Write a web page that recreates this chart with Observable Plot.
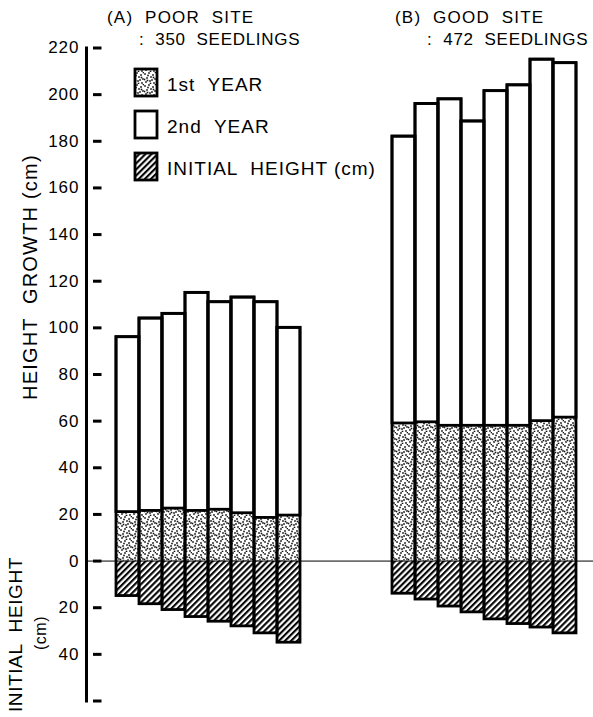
<!DOCTYPE html>
<html>
<head>
<meta charset="utf-8">
<script src="https://cdn.jsdelivr.net/npm/d3@7"></script>
<script src="https://cdn.jsdelivr.net/npm/@observablehq/plot@0.6"></script>
<style>
  html, body { margin: 0; padding: 0; background: #fff; }
  #chart { position: relative; width: 593px; height: 717px; }
  svg text { font-family: "Liberation Sans", Arial, Helvetica, sans-serif; }
</style>
</head>
<body>
<div id="chart"></div>
<script>
// ---- data ----
const classes = [1, 2, 3, 4, 5, 6, 7, 8];
const siteATotal   = [96, 104, 106, 115, 111, 113, 111, 100];
const siteAYear1   = [21, 21.5, 22.5, 21.5, 22, 20.5, 18.5, 19.5];
const siteAInitial = [15, 18.5, 21, 24, 26, 28, 31, 35];
const siteBTotal   = [182, 196, 198, 188.5, 201.5, 204, 215, 213.5];
const siteBYear1   = [59, 59.5, 58, 58, 58, 58, 60, 61.5];
const siteBInitial = [14, 16.5, 19.5, 22, 25, 27, 28.5, 31];
const yTicks = [-60, -40, -20, 0, 20, 40, 60, 80, 100, 120, 140, 160, 180, 200, 220];
const siteLabels = [["(A)  POOR  SITE", ":  350  SEEDLINGS"], ["(B)  GOOD  SITE", ":  472  SEEDLINGS"]];
const legendLabels = ["1st  YEAR", "2nd  YEAR", "INITIAL  HEIGHT (cm)"];

// ---- table ----
const rows = [];
classes.forEach((c, i) => rows.push({key: "A" + c, total: siteATotal[i], y1: siteAYear1[i], init: -siteAInitial[i]}));
classes.forEach((c, i) => rows.push({key: "B" + c, total: siteBTotal[i], y1: siteBYear1[i], init: -siteBInitial[i]}));
const xDomain = ["pad", ...classes.map(c => "A" + c), "g1", "g2", "g3", "g4", ...classes.map(c => "B" + c)];

// ---- patterns ----
const defsSvg = d3.select("body").append("svg")
  .attr("width", 0).attr("height", 0).style("position", "absolute");
const defs = defsSvg.append("defs");
const dots = [[1,2],[5,1],[9,3],[3,6],[7,5],[11,7],[2,10],[6,9],[10,11],[4,3.5],[8,8],[0.5,7.5],[11.5,0.5],[6.5,11.5],[9.5,5.5],[3.5,8.5]];
const stip = defs.append("pattern").attr("id", "stipple").attr("patternUnits", "userSpaceOnUse")
  .attr("width", 12).attr("height", 12);
stip.append("rect").attr("width", 12).attr("height", 12).attr("fill", "#fff");
dots.forEach(([x, y]) => stip.append("rect").attr("x", x - 0.8).attr("y", y - 0.8)
  .attr("width", 1.6).attr("height", 1.6).attr("fill", "#111"));
const hatch = defs.append("pattern").attr("id", "hatch").attr("patternUnits", "userSpaceOnUse")
  .attr("width", 4.3).attr("height", 4.3).attr("patternTransform", "rotate(45)");
hatch.append("rect").attr("width", 4.3).attr("height", 4.3).attr("fill", "#fff");
hatch.append("line").attr("x1", 1.1).attr("y1", 0).attr("x2", 1.1).attr("y2", 4.3)
  .attr("stroke", "#000").attr("stroke-width", 2.1);

// ---- plot ----
const plot = Plot.plot({
  width: 593,
  height: 717,
  marginLeft: 86,
  marginRight: 9.4,
  marginTop: 47.5,
  marginBottom: 16.5,
  x: {type: "band", domain: xDomain, padding: 0, axis: null},
  y: {domain: [-60, 220]},
  style: {fontFamily: "'Liberation Sans', Arial, sans-serif", background: "#fff"},
  marks: [
    Plot.barY(rows, {x: "key", y1: "init", y2: 0, fill: "url(#hatch)"}),
    Plot.barY(rows, {x: "key", y1: 0, y2: "y1", fill: "url(#stipple)"}),
    Plot.barY(rows, {x: "key", y1: "y1", y2: "total", fill: "#fff", stroke: "#000", strokeWidth: 2.8}),
    Plot.barY(rows, {x: "key", y1: "init", y2: "total", fill: "none", stroke: "#000", strokeWidth: 2.8}),
    Plot.ruleY([0], {stroke: "#000", strokeWidth: 1, insetRight: -10}),
    Plot.frame({anchor: "left", stroke: "#000", strokeWidth: 3}),
    Plot.tickY(yTicks, {x: () => "pad", y: d => d, stroke: "#000", strokeWidth: 3, insetRight: 14.5}),
    Plot.axisY({
      ticks: yTicks,
      tickFormat: d => d === -60 ? "" : String(Math.abs(d)),
      tickSize: 0,
      tickPadding: 7,
      fontSize: 17,
      label: null
    })
  ]
});
document.getElementById("chart").appendChild(plot);

// ---- annotations ----
const svg = d3.select(plot);
svg.selectAll("g[aria-label='y-axis tick label'] text").style("letter-spacing", "1px");
const txt = (x, y, s, size, opts = {}) => {
  const t = svg.append("text").attr("x", x).attr("y", y).text(s)
    .attr("font-size", size).attr("fill", "#000")
    .attr("text-anchor", opts.anchor || "start")
    .style("letter-spacing", opts.ls || "1.2px").style("white-space", "pre");
  if (opts.rotate) t.attr("transform", `rotate(-90 ${x} ${y})`);
  return t;
};
txt(107, 23, siteLabels[0][0], 17);
txt(139, 45, siteLabels[0][1], 17, {ls: "0.7px"});
txt(395, 23, siteLabels[1][0], 17);
txt(427, 45, siteLabels[1][1], 17, {ls: "0.7px"});

// legend
const fills = ["url(#stipple)", "#fff", "url(#hatch)"];
const legY = [69, 111, 153];
legendLabels.forEach((lab, i) => {
  svg.append("rect").attr("x", 135).attr("y", legY[i]).attr("width", 22).attr("height", 27)
    .attr("fill", fills[i]).attr("stroke", "#000").attr("stroke-width", 2.8);
  txt(167, legY[i] + 22, lab, 19, {ls: "1px"});
});

// axis titles
txt(37, 400, "HEIGHT  GROWTH (cm)", 20, {rotate: true, ls: "1.2px"});
txt(22, 557, "INITIAL  HEIGHT", 19, {rotate: true, anchor: "end", ls: "0.6px"});
txt(46, 633, "(cm)", 16, {rotate: true, anchor: "middle", ls: "0.5px"});
</script>
</body>
</html>
